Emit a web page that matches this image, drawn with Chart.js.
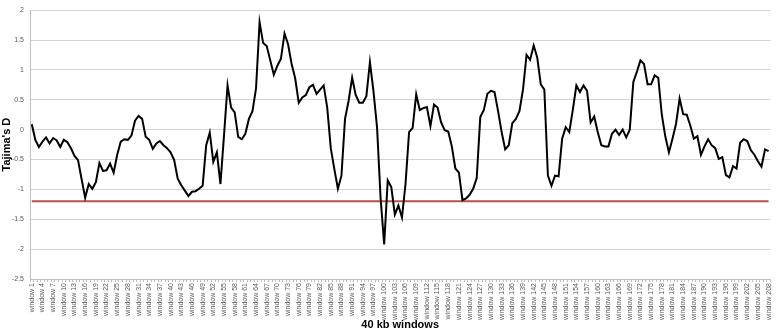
<!DOCTYPE html>
<html lang="en">
<head>
    <meta charset="UTF-8">
    <title>Tajima's D</title>
    <script src="https://cdn.jsdelivr.net/npm/chart.js"></script>
    <style>
        html, body { margin: 0; padding: 0; background: #fff; }
    </style>
</head>
<body>
    <canvas id="myChart" width="778" height="332"></canvas>

    <script>
        // 208 windows of 40 kb
        const windowCount = 208;
        const windowLabels = [];
        for (let i = 1; i <= windowCount; i++) windowLabels.push('window ' + i);

        const tajimaD = [
            0.09, -0.17, -0.29, -0.2, -0.13, -0.23, -0.14, -0.18, -0.29, -0.17,
            -0.21, -0.31, -0.44, -0.51, -0.83, -1.14, -0.91, -0.99, -0.88, -0.56,
            -0.69, -0.68, -0.57, -0.72, -0.42, -0.2, -0.16, -0.17, -0.1, 0.15,
            0.23, 0.18, -0.12, -0.17, -0.32, -0.23, -0.19, -0.26, -0.31, -0.38,
            -0.51, -0.82, -0.93, -1.02, -1.11, -1.04, -1.03, -0.99, -0.94, -0.26,
            -0.05, -0.54, -0.38, -0.91, -0.1, 0.74, 0.37, 0.29, -0.12, -0.16,
            -0.07, 0.18, 0.31, 0.69, 1.8, 1.45, 1.4, 1.16, 0.92, 1.07,
            1.19, 1.61, 1.43, 1.1, 0.86, 0.45, 0.54, 0.58, 0.71, 0.75,
            0.6, 0.67, 0.74, 0.37, -0.31, -0.66, -0.99, -0.77, 0.18, 0.48,
            0.87, 0.58, 0.45, 0.45, 0.56, 1.13, 0.64, 0.04, -1.15, -1.92,
            -0.85, -0.96, -1.42, -1.27, -1.47, -0.91, -0.04, 0.03, 0.59, 0.33,
            0.36, 0.38, 0.06, 0.42, 0.37, 0.12, -0.01, -0.03, -0.28, -0.65,
            -0.72, -1.18, -1.15, -1.09, -0.99, -0.81, 0.21, 0.33, 0.6, 0.65,
            0.63, 0.31, -0.04, -0.33, -0.26, 0.11, 0.18, 0.31, 0.67, 1.25,
            1.17, 1.41, 1.21, 0.76, 0.67, -0.77, -0.94, -0.77, -0.78, -0.15,
            0.04, -0.04, 0.33, 0.74, 0.63, 0.74, 0.65, 0.12, 0.22, -0.04,
            -0.26, -0.28, -0.28, -0.07, 0, -0.09, 0, -0.13, 0, 0.8,
            0.97, 1.16, 1.1, 0.76, 0.76, 0.91, 0.87, 0.25, -0.12, -0.38,
            -0.15, 0.1, 0.52, 0.26, 0.25, 0.07, -0.15, -0.11, -0.42, -0.28,
            -0.16, -0.26, -0.31, -0.49, -0.46, -0.76, -0.8, -0.61, -0.65, -0.22,
            -0.16, -0.19, -0.34, -0.42, -0.53, -0.62, -0.33, -0.36
        ];

        const threshold = -1.2;
        const thresholdLine = windowLabels.map(() => threshold);

        const yTicks = [2, 1.5, 1, 0.5, 0, -0.5, -1, -1.5, -2, -2.5];

        const ctx = document.getElementById('myChart').getContext('2d');
        const chart = new Chart(ctx, {
            type: 'line',
            data: {
                labels: windowLabels,
                datasets: [
                    {
                        label: 'threshold',
                        data: thresholdLine,
                        borderColor: '#b9504f',
                        borderWidth: 2,
                        pointRadius: 0,
                        order: 2
                    },
                    {
                        label: "Tajima's D",
                        data: tajimaD,
                        borderColor: '#000000',
                        borderWidth: 2,
                        pointRadius: 0,
                        tension: 0,
                        order: 1
                    }
                ]
            },
            options: {
                responsive: false,
                animation: false,
                devicePixelRatio: 1,
                layout: { padding: { top: 3, right: 2, left: 0, bottom: 0 } },
                plugins: {
                    legend: { display: false },
                    tooltip: { enabled: false }
                },
                scales: {
                    x: {
                        offset: true,
                        grid: {
                            drawOnChartArea: false,
                            drawTicks: true,
                            tickLength: 3,
                            color: '#bfbfbf',
                            offset: true
                        },
                        border: { display: true, color: '#bfbfbf' },
                        ticks: {
                            autoSkip: false,
                            maxRotation: 90,
                            minRotation: 90,
                            padding: 1,
                            color: '#595959',
                            font: { family: 'Liberation Sans', size: 7 },
                            callback: function (value, index) {
                                return index % 3 === 0 ? this.getLabelForValue(value) : '';
                            }
                        },
                        title: {
                            display: true,
                            text: '40 kb windows',
                            color: '#000',
                            padding: { top: 3, bottom: 0 },
                            font: { family: 'Liberation Sans', size: 11, weight: 'bold' }
                        },
                        afterFit: function (scale) { scale.height = 53; }
                    },
                    y: {
                        min: -2.5,
                        max: 2,
                        afterBuildTicks: function (scale) {
                            scale.ticks = yTicks.map(v => ({ value: v }));
                        },
                        grid: {
                            color: '#d4d4d4',
                            lineWidth: 1,
                            drawTicks: false
                        },
                        border: { display: true, color: '#bfbfbf' },
                        ticks: {
                            padding: 6,
                            color: '#595959',
                            font: { family: 'Liberation Sans', size: 7 },
                            callback: function (value) { return String(value); }
                        },
                        title: {
                            display: true,
                            text: "Tajima's D",
                            color: '#000',
                            padding: { top: 0, bottom: 0 },
                            font: { family: 'Liberation Sans', size: 11, weight: 'bold' }
                        },
                        afterFit: function (scale) { scale.width = 30; }
                    }
                }
            }
        });
    </script>
</body>
</html>
